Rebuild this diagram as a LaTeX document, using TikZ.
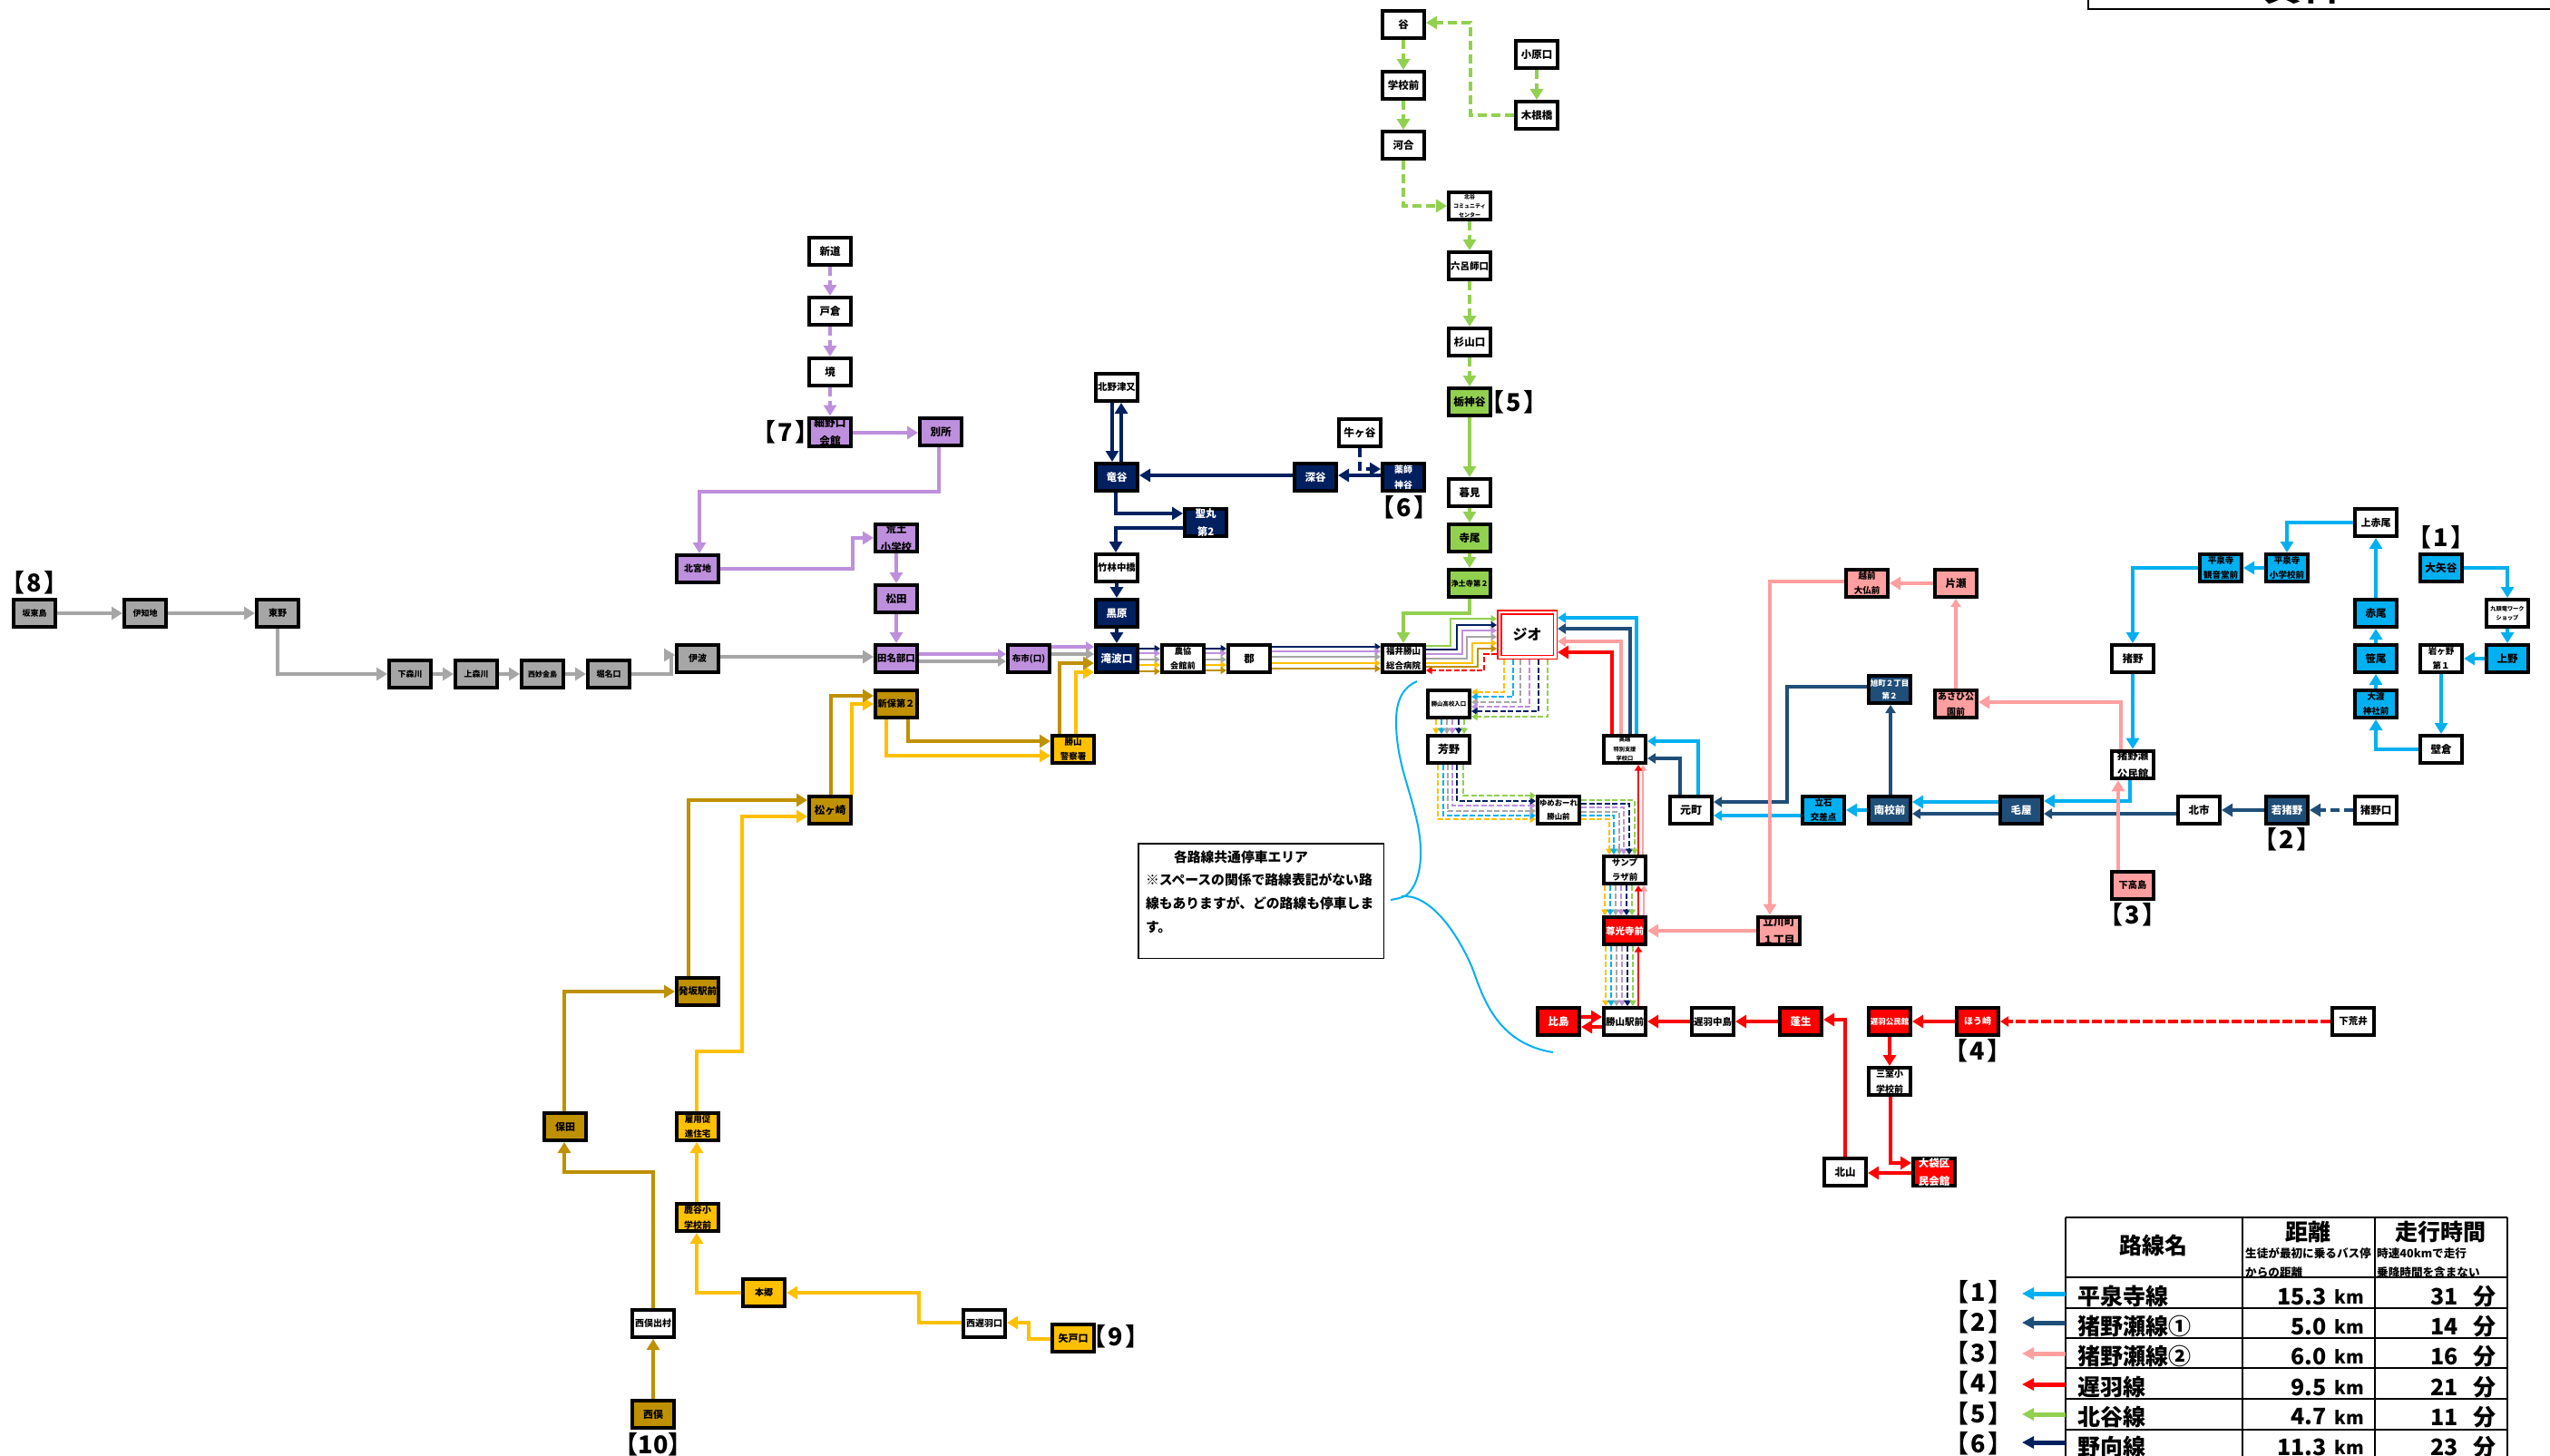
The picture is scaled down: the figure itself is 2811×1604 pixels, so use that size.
\documentclass[tikz,border=0pt]{standalone}
\usepackage{fontspec}
\setmainfont{Noto Sans CJK JP}
\usetikzlibrary{arrows.meta}
\definecolor{lblue}{HTML}{00B0F0}
\definecolor{dblue}{HTML}{1F4E79}
\definecolor{pinkc}{HTML}{FF9F9F}
\definecolor{redc}{HTML}{FF0000}
\definecolor{greenc}{HTML}{92D050}
\definecolor{navyc}{HTML}{002060}
\definecolor{purpc}{HTML}{BE8FDD}
\definecolor{grayc}{HTML}{A6A6A6}
\definecolor{yelc}{HTML}{FFC000}
\definecolor{goldc}{HTML}{BF9000}
\tikzset{
  stn/.style={draw=black,line width=4pt,minimum width=46pt,minimum height=30pt,inner sep=0pt,align=center,fill=white,text=black},
  fs/.code={\pgfmathsetmacro\lsk{#1*1.7}\tikzset{font=\fontsize{#1}{\lsk}\selectfont\bfseries}},
  wh/.style={stn,fill=white,text=black},
  fblue/.style={stn,fill=lblue},
  fdblue/.style={stn,fill=dblue,text=white},
  fpink/.style={stn,fill=pinkc},
  fred/.style={stn,fill=redc,text=white},
  fgreen/.style={stn,fill=greenc},
  fnavy/.style={stn,fill=navyc,text=white},
  fpurp/.style={stn,fill=purpc},
  fgray/.style={stn,fill=grayc},
  fyel/.style={stn,fill=yelc},
  fgold/.style={stn,fill=goldc},
  lnL/.style={line width=4.4pt,-{Triangle[length=12pt,width=14pt]},miter limit=4},
  lnM/.style={line width=3.2pt,-{Triangle[length=9pt,width=11pt]}},
  lnS/.style={line width=2.5pt,-{Triangle[length=6.5pt,width=8pt]}},
  dL/.style={dash pattern=on 10pt off 5pt},
  dS/.style={dash pattern=on 6pt off 2.5pt},
  tag/.style={inner sep=0pt,font=\fontsize{27}{30}\selectfont\bfseries},
  cellb/.style={inner sep=0pt,font=\fontsize{25}{28}\selectfont\bfseries},
  cellk/.style={inner sep=0pt,font=\fontsize{20}{28}\selectfont\bfseries},
  cellh/.style={inner sep=0pt,font=\fontsize{25}{28}\selectfont\bfseries},
  cellsm/.style={inner sep=0pt,anchor=west,font=\fontsize{12.6}{15}\selectfont\bfseries},
}
\begin{document}
\begin{tikzpicture}[x=1pt,y=-1pt]
\path[use as bounding box,clip] (0,0) rectangle (2811,1604);
\fill[white] (0,0) rectangle (2811,1604);

% top-right frame
\draw[line width=1.5pt] (2302,0) -- (2302,10) -- (2811,10);
\node[inner sep=0pt,anchor=base,font=\fontsize{42}{44}\selectfont\bfseries] (shiryo) at (2558,0.5) {資料１};

% ---------- green stops
\node[wh,fs=11.5] (tani) at (1547,27) {谷};
\node[wh,fs=11.5] (gakko) at (1547,94) {学校前};
\node[wh,fs=11.5] (kawai) at (1547,160) {河合};
\node[wh,fs=11.5] (ohara) at (1694,60) {小原口};
\node[wh,fs=11.5] (kine) at (1694,127) {木根橋};
\node[wh,fs=6] (kitadani) at (1620,227) {北谷\\コミュニティ\\センター};
\node[wh,fs=10.5] (rokuro) at (1620,293) {六呂師口};
\node[wh,fs=11.5] (sugi) at (1620,377) {杉山口};
\node[fgreen,fs=11.8] (tochi) at (1620,443) {栃神谷};
\node[wh,fs=11.5] (kure) at (1620,543) {暮見};
\node[fgreen,fs=11.5] (terao) at (1620,593) {寺尾};
\node[fgreen,fs=8.2] (jodo) at (1620,643) {浄土寺第２};
% ---------- navy stops
\node[wh,fs=10.4] (kitano) at (1231,427) {北野津又};
\node[fnavy,fs=11.5] (ryu) at (1231,526) {竜谷};
\node[fnavy,fs=11.5] (hijiri) at (1329,576) {聖丸\\第2};
\node[wh,fs=10.4] (chiku) at (1231,626) {竹林中橋};
\node[fnavy,fs=11.5] (kuro) at (1231,676) {黒原};
\node[fnavy,fs=11.7] (taki) at (1231,726) {滝波口};
\node[fnavy,fs=11.5] (fuka) at (1450,526) {深谷};
\node[fnavy,fs=10] (yaku) at (1547,526) {薬師\\神谷};
\node[wh,fs=11.7] (ushi) at (1499,477) {牛ヶ谷};
\node[wh,fs=9.2] (nokyo) at (1304,726) {農協\\会館前};
\node[wh,fs=11.5] (kori) at (1377,726) {郡};
\node[wh,fs=9.5] (byo) at (1547,726) {福井勝山\\総合病院};
% ---------- hub
\node[draw=redc,double=white,double distance=2.5pt,line width=1.5pt,minimum width=61.5pt,minimum height=49.5pt,outer sep=2.75pt,inner sep=0pt,fill=white,font=\fontsize{16}{18}\selectfont\bfseries] (jio) at (1683.5,699.5) {ジオ};
\node[wh,fs=6.4] (koko) at (1597,776) {勝山高校入口};
\node[wh,fs=12] (yoshino) at (1597,826) {芳野};
\node[wh,fs=6.2] (okue) at (1791,826) {奥越\\特別支援\\学校口};
\node[wh,fs=12] (moto) at (1864,893) {元町};
\node[wh,fs=8.4] (yume) at (1718,893) {ゆめおーれ\\勝山前};
\node[wh,fs=9.5] (sanp) at (1791,959) {サンプ\\ラザ前};
\node[fred,fs=10.5] (sonko) at (1791,1026) {尊光寺前};
\node[wh,fs=10.5] (eki) at (1791,1126) {勝山駅前};
\node[fred,fs=11.5] (hishima) at (1718,1126) {比島};
\node[wh,fs=10.5] (naka) at (1888,1126) {遅羽中島};
\node[fpink,fs=11.7] (tachi) at (1961,1026) {立川町\\１丁目};
\node[fred,fs=11.5] (yomogi) at (1985,1126) {蓬生};
\node[fred,fs=8.5] (ouha) at (2083,1126) {遅羽公民館};
\node[wh,fs=10] (mimuro) at (2083,1192) {三室小\\学校前};
\node[fred,fs=11.5] (fukuro) at (2132,1292) {大袋区\\民会館};
\node[wh,fs=11.5] (kitayama) at (2034,1292) {北山};
\node[fred,fs=10] (hou) at (2180,1126) {ほう崎};
\node[wh,fs=10.5] (shimoara) at (2594,1126) {下荒井};
% ---------- blue stops
\node[wh,fs=11] (kamiakao) at (2619,576) {上赤尾};
\node[fblue,fs=9.5] (heisho) at (2521,626) {平泉寺\\小学校前};
\node[fblue,fs=9.5] (heikan) at (2448,626) {平泉寺\\観音堂前};
\node[wh,fs=11.5] (ino) at (2351,726) {猪野};
\node[fblue,fs=11.5] (akao) at (2619,676) {赤尾};
\node[fblue,fs=11.5] (sasao) at (2619,726) {笹尾};
\node[fblue,fs=9.5] (owatari) at (2619,776) {大渡\\神社前};
\node[wh,fs=11.5] (kabe) at (2691,826) {壁倉};
\node[fblue,fs=11.7] (oyadani) at (2691,626) {大矢谷};
\node[wh,fs=6.2] (kuzu) at (2764,676) {九頭竜ワーク\\ショップ};
\node[fblue,fs=11.5] (ueno) at (2764,726) {上野};
\node[wh,fs=9.5] (iwa) at (2691,726) {岩ヶ野\\第１};
\node[wh,fs=11.5] (inokou) at (2351,843) {猪野瀬\\公民館};
\node[wh,fs=11.5] (kitaichi) at (2424,893) {北市};
\node[fdblue,fs=11.5] (wakai) at (2521,893) {若猪野};
\node[wh,fs=11.5] (inoguchi) at (2619,893) {猪野口};
\node[fpink,fs=10.3] (shimotaka) at (2351,976) {下高島};
\node[fdblue,fs=11.5] (keya) at (2228,893) {毛屋};
\node[fdblue,fs=11.5] (minami) at (2083,893) {南校前};
\node[fblue,fs=9.5] (tateishi) at (2010,893) {立石\\交差点};
\node[fdblue,fs=8.5] (asahi2) at (2083,760) {旭町２丁目\\第２};
\node[fpink,fs=10] (asahi) at (2156,776) {あさひ公\\園前};
\node[fpink,fs=11.5] (katase) at (2156,643) {片瀬};
\node[fpink,fs=9.5] (echi) at (2058,643) {越前\\大仏前};
% ---------- purple stops
\node[wh,fs=11.5] (shindo) at (915,277) {新道};
\node[wh,fs=11.5] (tokura) at (915,343) {戸倉};
\node[wh,fs=11.5] (sakai) at (915,410) {境};
\node[fpurp,fs=11.7] (hosono) at (915,476) {細野口\\会館};
\node[fpurp,fs=11.5] (bessho) at (1037,476) {別所};
\node[fpurp,fs=11.4] (arado) at (988,593) {荒土\\小学校};
\node[fpurp,fs=11.5] (matsuda) at (988,660) {松田};
\node[fpurp,fs=10] (kitamiya) at (769,627) {北宮地};
\node[fpurp,fs=10.4] (tanabe) at (988,726) {田名部口};
\node[fpurp,fs=9.5] (nunoichi) at (1134,726) {布市(口)};
% ---------- gold / yellow stops
\node[fgold,fs=10.2] (shinbo) at (988,776) {新保第２};
\node[fyel,fs=9.5] (keisatsu) at (1183,826) {勝山\\警察署};
\node[fgold,fs=11.5] (matsu) at (915,893) {松ヶ崎};
\node[fgold,fs=10.5] (hossaka) at (769,1093) {発坂駅前};
\node[fyel,fs=9.5] (koyo) at (769,1242) {雇用促\\進住宅};
\node[fyel,fs=10] (shikatani) at (769,1342) {鹿谷小\\学校前};
\node[fgold,fs=11] (hota) at (623,1242) {保田};
\node[fyel,fs=10] (hongo) at (842,1425) {本郷};
\node[wh,fs=10] (nishideson) at (720,1459) {西俣出村};
\node[fgold,fs=11] (nishimata) at (720,1559) {西俣};
\node[wh,fs=10] (nishiouha) at (1085,1459) {西遅羽口};
\node[fyel,fs=11] (yato) at (1183,1475) {矢戸口};
% ---------- gray stops
\node[fgray,fs=9] (bando) at (38,676) {坂東島};
\node[fgray,fs=9] (ichiji) at (160,676) {伊知地};
\node[fgray,fs=10] (higashino) at (306,676) {東野};
\node[fgray,fs=9] (shimomori) at (452,743) {下森川};
\node[fgray,fs=9] (kamimori) at (525,743) {上森川};
\node[fgray,fs=8] (nishimyo) at (598,743) {西妙金島};
\node[fgray,fs=9] (horina) at (671,743) {堀名口};
\node[fgray,fs=10] (iba) at (769,726) {伊波};

% ---------- route tags
\node[tag] (tag1) at (2691,592) {【\hspace{2pt}1\hspace{2pt}】};
\node[tag] (tag2) at (2521,925) {【\hspace{2pt}2\hspace{2pt}】};
\node[tag] (tag3) at (2351,1008) {【\hspace{2pt}3\hspace{2pt}】};
\node[tag] (tag4) at (2180,1158) {【\hspace{2pt}4\hspace{2pt}】};
\node[tag] (tag5) at (1669,443) {【\hspace{2pt}5\hspace{2pt}】};
\node[tag] (tag6) at (1548,559) {【\hspace{2pt}6\hspace{2pt}】};
\node[tag] (tag7) at (866,476) {【\hspace{2pt}7\hspace{2pt}】};
\node[tag] (tag8) at (38,642) {【\hspace{2pt}8\hspace{2pt}】};
\node[tag] (tag9) at (1230,1473) {【\hspace{2pt}9\hspace{2pt}】};
\node[tag] (tag10) at (720,1592) {【10】};

% ---------- route 1 blue
\begin{scope}[draw=lblue]
\draw[lnL] (oyadani.east) -| (kuzu.north);
\draw[lnL] (kuzu.south) -- (ueno.north);
\draw[lnL] (ueno.west) -- (iwa.east);
\draw[lnL] (iwa.south) -- (kabe.north);
\draw[lnL] (kabe.west) -| (owatari.south);
\draw[lnL] (owatari.north) -- (sasao.south);
\draw[lnL] (sasao.north) -- (akao.south);
\draw[lnL] (akao.north) -- (kamiakao.south);
\draw[lnL] (kamiakao.west) -| (heisho.north);
\draw[lnL] (heisho.west) -- (heikan.east);
\draw[lnL] (heikan.west) -| (ino.north);
\draw[lnL] (ino.south) -- (inokou.north);
\draw[lnL] (inokou.south -| 2348,0) -- (2348,883) -- (keya.east |- 0,883);
\draw[lnL] (keya.west |- 0,884) -- (minami.east |- 0,884);
\draw[lnL] (minami.west) -- (tateishi.east);
\draw[lnM] (tateishi.west |- 0,899) -- (moto.east |- 0,899);
\draw[lnM] (moto.north -| 1872,0) -- (1872,817) -- (okue.east |- 0,817);
\draw[lnM] (okue.north -| 1804,0) -- (1804,681) -- (jio.east |- 0,681);
\end{scope}
% ---------- route 2 dark blue
\begin{scope}[draw=dblue]
\draw[lnL,dL] (inoguchi.west) -- (wakai.east);
\draw[lnL] (wakai.west) -- (kitaichi.east);
\draw[lnM] (kitaichi.west |- 0,897) -- (keya.east |- 0,897);
\draw[lnM] (keya.west |- 0,897) -- (minami.east |- 0,897);
\draw[lnM] (minami.north -| 2084,0) -- (asahi2.south -| 2084,0);
\draw[lnM] (asahi2.west |- 0,757) -- (1970,757) -- (1970,884) -- (moto.east |- 0,884);
\draw[lnM] (moto.north -| 1852,0) -- (1852,836) -- (okue.east |- 0,836);
\draw[lnM] (okue.north -| 1797,0) -- (1797,693) -- (jio.east |- 0,693);
\end{scope}
% ---------- route 3 pink
\begin{scope}[draw=pinkc]
\draw[lnL] (shimotaka.north -| 2335,0) -- (inokou.south -| 2335,0);
\draw[lnL] (inokou.north -| 2338,0) -- (2338,774) -- (asahi.east |- 0,774);
\draw[lnM] (asahi.north) -- (katase.south);
\draw[lnL] (katase.west) -- (echi.east);
\draw[lnL] (echi.west |- 0,641) -- (1951,641) -- (tachi.north -| 1951,0);
\draw[lnL] (tachi.west) -- (sonko.east);
\draw[lnS] (sonko.north -| 1812,0) -- (sanp.south -| 1812,0);
\draw[lnS] (sanp.north -| 1811,0) -- (okue.south -| 1811,0);
\draw[lnM] (okue.north -| 1787,0) -- (1787,707) -- (jio.east |- 0,707);
\end{scope}
% ---------- route 4 red
\begin{scope}[draw=redc]
\draw[lnM,dash pattern=on 11pt off 3pt] (shimoara.west) -- (hou.east);
\draw[lnL] (hou.west) -- (ouha.east);
\draw[lnL] (ouha.south) -- (mimuro.north);
\draw[lnL] (mimuro.south -| 2084,0) -- (2084,1282) -- (fukuro.west |- 0,1282);
\draw[lnL] (fukuro.west |- 0,1293) -- (kitayama.east |- 0,1293);
\draw[lnL] (kitayama.north) -- (2034,1124) -- (yomogi.east |- 0,1124);
\draw[lnL] (yomogi.west) -- (naka.east);
\draw[lnL] (naka.west) -- (eki.east);
\draw[lnL] (eki.west |- 0,1132) -- (hishima.east |- 0,1132);
\draw[lnL] (hishima.east |- 0,1121) -- (eki.west |- 0,1121);
\draw[lnS] (eki.north -| 1806,0) -- (sonko.south -| 1806,0);
\draw[lnS] (sonko.north -| 1806,0) -- (sanp.south -| 1806,0);
\draw[lnS] (sanp.north -| 1806,0) -- (okue.south -| 1806,0);
\draw[lnL] (okue.north -| 1777,0) -- (1777,719) -- (jio.east |- 0,719);
\draw[lnS,dS] (jio.west |- 0,721) -- (1636,721) -- (1636,739) -- (byo.east |- 0,739);
\end{scope}
% ---------- route 5 green
\begin{scope}[draw=greenc]
\draw[lnL,dL] (kine.west) -- (1621,127) -- (1621,25) -- (tani.east |- 0,25);
\draw[lnL,dL] (ohara.south) -- (kine.north);
\draw[lnL,dL] (tani.south) -- (gakko.north);
\draw[lnL,dL] (gakko.south) -- (kawai.north);
\draw[lnL,dL] (kawai.south) |- (kitadani.west);
\draw[lnL,dL] (kitadani.south) -- (rokuro.north);
\draw[lnL,dL] (rokuro.south) -- (sugi.north);
\draw[lnL,dL] (sugi.south) -- (tochi.north);
\draw[lnL] (tochi.south) -- (kure.north);
\draw[lnL] (kure.south) -- (terao.north);
\draw[lnL] (terao.south) -- (jodo.north);
\draw[lnL] (jodo.south) -- (1620,676) -- (1547,676) -- (byo.north);
\end{scope}
% ---------- route 6 navy
\begin{scope}[draw=navyc]
\draw[lnL] (kitano.south -| 1226,0) -- (ryu.north -| 1226,0);
\draw[lnL] (ryu.north -| 1236,0) -- (kitano.south -| 1236,0);
\draw[lnL] (ryu.south -| 1230,0) -- (1230,566) -- (hijiri.west |- 0,566);
\draw[lnL] (hijiri.west |- 0,582) -- (1230,582) -- (chiku.north -| 1230,0);
\draw[lnL] (chiku.south) -- (kuro.north);
\draw[lnL] (kuro.south) -- (taki.north);
\draw[lnL] (fuka.west |- 0,524) -- (ryu.east |- 0,524);
\draw[lnL] (yaku.west |- 0,524) -- (fuka.east |- 0,524);
\draw[lnL,dL] (ushi.south) -- (1499,517) -- (yaku.west |- 0,517);
\end{scope}
% ---------- route 7 purple
\begin{scope}[draw=purpc]
\draw[lnL,dL] (shindo.south) -- (tokura.north);
\draw[lnL,dL] (tokura.south) -- (sakai.north);
\draw[lnL,dL] (sakai.south) -- (hosono.north);
\draw[lnL] (hosono.east |- 0,477) -- (bessho.west |- 0,477);
\draw[lnL] (bessho.south -| 1035,0) -- (1035,542) -- (771,542) -- (kitamiya.north -| 771,0);
\draw[lnL] (kitamiya.east) -- (940,627) -- (940,593) -- (arado.west);
\draw[lnL] (arado.south) -- (matsuda.north);
\draw[lnL] (matsuda.south) -- (tanabe.north);
\end{scope}
% ---------- route 8 gray
\begin{scope}[draw=grayc]
\draw[lnL] (bando.east) -- (ichiji.west);
\draw[lnL] (ichiji.east) -- (higashino.west);
\draw[lnL] (higashino.south) -- (306,743) -- (shimomori.west);
\draw[lnL] (shimomori.east) -- (kamimori.west);
\draw[lnL] (kamimori.east) -- (nishimyo.west);
\draw[lnL] (nishimyo.east) -- (horina.west);
\draw[lnL] (horina.east) -- (740,743) -- (740,722) -- (iba.west |- 0,722);
\draw[lnL] (iba.east |- 0,724) -- (tanabe.west |- 0,724);
\end{scope}
% ---------- route 9 yellow, route 10 gold (outer parts)
\begin{scope}[draw=yelc]
\draw[lnL] (yato.west |- 0,1476) -- (1134,1476) -- (1134,1458) -- (nishiouha.east |- 0,1458);
\draw[lnL] (nishiouha.west |- 0,1458) -- (1013,1458) -- (1013,1425) -- (hongo.east);
\draw[lnL] (hongo.west) -- (768,1425) -- (shikatani.south -| 768,0);
\draw[lnL] (shikatani.north -| 768,0) -- (koyo.south -| 768,0);
\draw[lnL] (koyo.north -| 768,0) -- (768,1159) -- (818,1159) -- (818,900) -- (matsu.west |- 0,900);
\draw[lnL] (matsu.north -| 939,0) -- (939,776) -- (shinbo.west);
\draw[lnL] (shinbo.south -| 977,0) -- (977,833) -- (keisatsu.west |- 0,833);
\draw[lnL] (keisatsu.north -| 1186,0) -- (1186,741) -- (taki.west |- 0,741);
\end{scope}
\begin{scope}[draw=goldc]
\draw[lnL] (nishimata.north) -- (nishideson.south);
\draw[lnL] (nishideson.north) -- (720,1292) -- (622,1292) -- (hota.south -| 622,0);
\draw[lnL] (hota.north -| 622,0) -- (622,1093) -- (hossaka.west);
\draw[lnL] (hossaka.north -| 759,0) -- (759,882) -- (matsu.west |- 0,882);
\draw[lnL] (matsu.north -| 916,0) -- (916,767) -- (shinbo.west |- 0,767);
\draw[lnL] (shinbo.south -| 1001,0) -- (1001,817) -- (keisatsu.west |- 0,817);
\draw[lnL] (keisatsu.north -| 1168,0) -- (1168,731) -- (taki.west |- 0,731);
\end{scope}
% ---------- shared corridor
\draw[lnM,draw=purpc] (tanabe.east |- 0,721) -- (nunoichi.west |- 0,721);
\draw[lnM,draw=grayc] (tanabe.east |- 0,729) -- (nunoichi.west |- 0,729);
\draw[lnM,draw=purpc] (nunoichi.east |- 0,713) -- (taki.west |- 0,713);
\draw[lnM,draw=grayc] (nunoichi.east |- 0,721) -- (taki.west |- 0,721);
\foreach \c/\ya/\yb/\yc in {navyc/715/715/713,purpc/720/720/718,grayc/727/727/724,yelc/733/733/731,goldc/740/739/737}{
  \draw[lnS,draw=\c] (taki.east |- 0,\ya) -- (nokyo.west |- 0,\ya);
  \draw[lnS,draw=\c] (nokyo.east |- 0,\yb) -- (kori.west |- 0,\yb);
  \draw[lnS,draw=\c] (kori.east |- 0,\yc) -- (byo.west |- 0,\yc);
}
\foreach \c/\ya/\xa/\yb in {greenc/712/1599/682,navyc/716/1606/689,purpc/721/1612/695,grayc/726/1617/702,yelc/731/1623/709,goldc/735/1629/715}{
  \draw[lnS,draw=\c] (byo.east |- 0,\ya) -- (\xa,\ya) -- (\xa,\yb) -- (jio.west |- 0,\yb);
}
\foreach \c/\xa/\ya/\xb/\xc/\yb/\yc/\xd/\xe/\xf in {
  yelc/1658/763/1583/1585/903/903/1774/1769/1770,
  lblue/1668/768/1589/1591/899/899/1779/1775/1776,
  grayc/1676/774/1595/1596/894/895/1785/1781/1782,
  purpc/1686/779/1601/1601/888/890/1790/1787/1788,
  navyc/1696/784/1608/1606/883/886/1796/1793/1794,
  greenc/1706/790/1614/1613/877/882/1802/1799/1800}{
  \draw[lnS,dS,draw=\c] (jio.south -| \xa,0) -- (\xa,\ya) -- (koko.east |- 0,\ya);
  \draw[lnS,draw=\c,dS] (koko.south -| \xb,0) -- (yoshino.north -| \xb,0);
  \draw[lnS,dS,draw=\c] (yoshino.south -| \xc,0) -- (\xc,\yb) -- (yume.west |- 0,\yb);
  \draw[lnS,dS,draw=\c] (yume.east |- 0,\yc) -- (\xd,\yc) -- (sanp.north -| \xd,0);
  \draw[lnS,dS,draw=\c] (sanp.south -| \xe,0) -- (sonko.north -| \xe,0);
  \draw[lnS,dS,draw=\c] (sonko.south -| \xf,0) -- (eki.north -| \xf,0);
}

% ---------- note and callout
\node[draw=black,line width=1.5pt,minimum width=270.5pt,minimum height=126.5pt,inner sep=0pt,outer sep=0pt,font=\fontsize{14.8}{25.6}\selectfont\bfseries] (note) at (1390,993)
  {\parbox[c][111pt][t]{254pt}{\raggedright\hspace*{31pt}各路線共通停車エリア\\※スペースの関係で路線表記がない路\\線もありますが、どの路線も停車しま\\す。}};
\draw[lblue,line width=2pt] (1533,992) .. controls (1538,991) and (1545,990) .. (1550,987)
  .. controls (1565,975) and (1570,945) .. (1563,910)
  .. controls (1555,870) and (1539,840) .. (1539,795)
  .. controls (1539,770) and (1548,757) .. (1562,751);
\draw[lblue,line width=2pt] (1545,988) .. controls (1575,985) and (1605,1025) .. (1623,1067)
  .. controls (1635,1100) and (1650,1150) .. (1712,1160);

% ---------- table
\draw[line width=1.3pt] (2277,1342) -- (2764,1342) (2277,1408) -- (2764,1408) (2277,1442) -- (2764,1442)
  (2277,1475) -- (2764,1475) (2277,1508) -- (2764,1508) (2277,1542) -- (2764,1542) (2277,1576) -- (2764,1576)
  (2277,1342) -- (2277,1610) (2472,1342) -- (2472,1610) (2618,1342) -- (2618,1610) (2764,1342) -- (2764,1610);
\node[cellh] (thname) at (2374,1373) {路線名};
\node[cellh] (thdist) at (2544,1358) {距離};
\node[cellh] (thtime) at (2690,1358) {走行時間};
\node[cellsm] (thd1) at (2475,1382) {生徒が最初に乗るバス停};
\node[cellsm] (thd2) at (2475,1403) {からの距離};
\node[cellsm] (tht1) at (2620,1382) {時速40kmで走行};
\node[cellsm] (tht2) at (2620,1403) {乗降時間を含まない};
\foreach \i/\ya/\yb/\ytg/\nm/\dist/\mins/\colr in {
  1/1429/1426/1424/平泉寺線/15.3/31/lblue,
  2/1462/1458/1457/猪野瀬線①/5.0/14/dblue,
  3/1495/1492/1491/猪野瀬線②/6.0/16/pinkc,
  4/1529/1526/1524/遅羽線/9.5/21/redc,
  5/1562/1559/1558/北谷線/4.7/11/greenc,
  6/1595/1590/1591/野向線/11.3/23/navyc}{
  \node[cellb,anchor=west] (rn\i) at (2290,\ya) {\nm};
  \node[cellb,anchor=east] (rd\i) at (2565,\ya) {\dist};
  \node[cellk,anchor=east] (ru\i) at (2606,\ya) {km};
  \node[cellb,anchor=east] (rm\i) at (2710,\ya) {\mins};
  \node[cellb,anchor=east] (rf\i) at (2752,\ya) {分};
  \node[tag] (lt\i) at (2181,\ytg) {【\hspace{2pt}\i\hspace{2pt}】};
  \coordinate (ls\i) at (2277,\yb);
  \coordinate (le\i) at (2229,\yb);
  \draw[line width=5pt,-{Triangle[length=13pt,width=13pt]},draw=\colr] (ls\i) -- (le\i);
}
\end{tikzpicture}
\end{document}
